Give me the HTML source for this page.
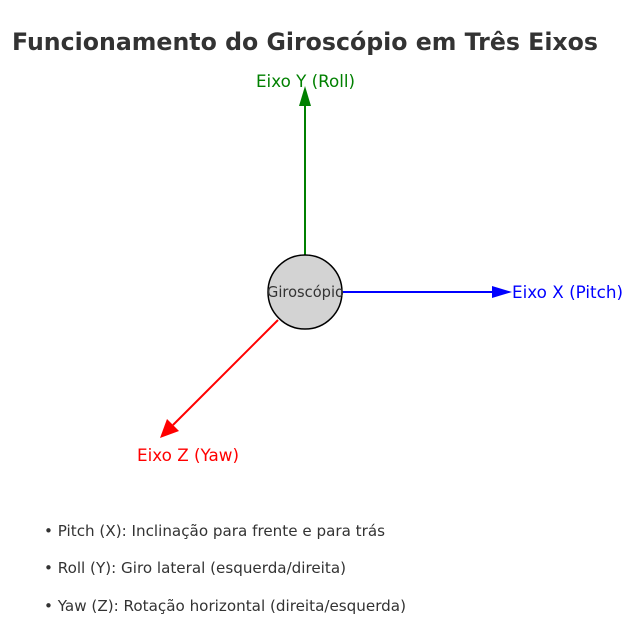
<!DOCTYPE html>
<html><head><meta charset="utf-8"><style>
body{margin:0;background:#fff;}
svg{display:block;font-family:"DejaVu Sans",sans-serif;}
</style></head><body>
<svg width="635" height="626" viewBox="0 0 635 626">
<text x="12" y="50" font-size="23.7" font-weight="bold" fill="#333" textLength="586" lengthAdjust="spacingAndGlyphs">Funcionamento do Giroscópio em Três Eixos</text>
<line x1="305" y1="255" x2="305" y2="104" stroke="#008000" stroke-width="2"/>
<polygon points="305,86 299,106 311,106" fill="#008000"/>
<line x1="342" y1="292" x2="494" y2="292" stroke="#0000ff" stroke-width="2"/>
<polygon points="512,292 492,286 492,298" fill="#0000ff"/>
<line x1="278" y1="320" x2="173" y2="425" stroke="#ff0000" stroke-width="2"/>
<polygon points="160,438 167,419 179,431" fill="#ff0000"/>
<circle cx="305" cy="292" r="37" fill="#d3d3d3" stroke="#000" stroke-width="1.5"/>
<text x="267" y="297" font-size="14.8" fill="#333" textLength="77" lengthAdjust="spacingAndGlyphs">Giroscópio</text>
<text x="256" y="87" font-size="16.5" fill="#008000" textLength="99" lengthAdjust="spacingAndGlyphs">Eixo Y (Roll)</text>
<text x="512" y="298" font-size="16.5" fill="#0000ff" textLength="111" lengthAdjust="spacingAndGlyphs">Eixo X (Pitch)</text>
<text x="137" y="461" font-size="16.5" fill="#ff0000" textLength="102" lengthAdjust="spacingAndGlyphs">Eixo Z (Yaw)</text>
<g font-size="15" fill="#333">
<text x="44" y="536" textLength="341" lengthAdjust="spacingAndGlyphs">• Pitch (X): Inclinação para frente e para trás</text>
<text x="44" y="573" textLength="302" lengthAdjust="spacingAndGlyphs">• Roll (Y): Giro lateral (esquerda/direita)</text>
<text x="44" y="611" textLength="362" lengthAdjust="spacingAndGlyphs">• Yaw (Z): Rotação horizontal (direita/esquerda)</text>
</g>
</svg>
</body></html>
